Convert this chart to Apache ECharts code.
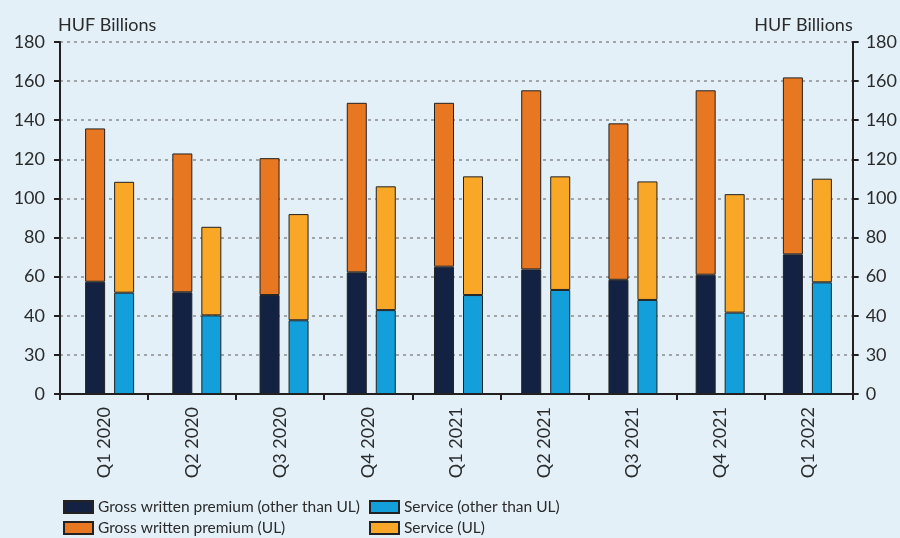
<!DOCTYPE html>
<html>
<head>
<meta charset="utf-8">
<script src="https://cdn.jsdelivr.net/npm/echarts@6/dist/echarts.min.js"></script>
<style>
  html, body { margin: 0; padding: 0; background: #e3f0f8; }
  #chart { width: 900px; height: 538px; }
</style>
</head>
<body>
<div id="chart"></div>
<script>
// Quarterly gross written premium and service, HUF billions
const quarters = ['Q1 2020', 'Q2 2020', 'Q3 2020', 'Q4 2020', 'Q1 2021', 'Q2 2021', 'Q3 2021', 'Q4 2021', 'Q1 2022'];
const gwpOther   = [57.4, 52.0, 50.6, 62.2, 65.1, 63.7, 58.4, 61.0, 71.4];
const gwpUL      = [78.4, 71.0, 70.0, 86.7, 83.8, 91.6, 80.0, 94.3, 90.5];
const svcOther   = [51.8, 40.2, 37.7, 42.9, 50.6, 53.2, 48.1, 41.6, 57.1];
const svcUL      = [56.7, 45.3, 54.3, 63.3, 60.7, 58.1, 60.6, 60.6, 53.0];
const tickValues = [0, 20, 40, 60, 80, 100, 120, 140, 160, 180];
const tickLabels = ['0', '30', '40', '60', '80', '100', '120', '140', '160', '180'];

const FONT = 'Lato';
const FS = 18;
const TEXT = '#2b2b2b';
const AXIS = '#231f20';

const labelFor = v => {
  const i = tickValues.indexOf(v);
  return i >= 0 ? tickLabels[i] : '';
};

const valueAxisBase = {
  type: 'value', min: 0, max: 180, interval: 20,
  axisLine: { show: true, lineStyle: { color: AXIS, width: 2 } },
  axisTick: { show: true, length: 6, lineStyle: { color: AXIS, width: 2 } },
  axisLabel: { formatter: labelFor, color: TEXT, fontFamily: FONT, fontSize: FS },
  nameGap: 8
};

const barBase = {
  type: 'bar', xAxisIndex: 1, yAxisIndex: 2,
  barWidth: 20, barGap: '45%',
  itemStyle: { borderColor: '#222', borderWidth: 1 }
};

const legendBase = {
  top: 497, orient: 'vertical', padding: 0,
  itemWidth: 29, itemHeight: 12, itemGap: 1,
  icon: 'rect',
  textStyle: { color: TEXT, fontFamily: FONT, fontSize: 15.5, lineHeight: 20 }
};

const chart = echarts.init(document.getElementById('chart'), null, { renderer: 'canvas' });
chart.setOption({
  backgroundColor: '#e3f0f8',
  animation: false,
  grid: [
    { left: 60, right: 47, top: 42, bottom: 144 },
    { left: 66, right: 49, top: 42, bottom: 144 }
  ],
  xAxis: [
    {
      type: 'category', gridIndex: 0, data: quarters,
      axisLine: { lineStyle: { color: AXIS, width: 2 } },
      axisTick: { show: true, length: 6, lineStyle: { color: AXIS, width: 2 } },
      axisLabel: { rotate: 90, margin: 13, color: TEXT, fontFamily: FONT, fontSize: FS }
    },
    {
      type: 'category', gridIndex: 1, data: quarters, show: false
    }
  ],
  yAxis: [
    Object.assign({}, valueAxisBase, {
      gridIndex: 0, position: 'left',
      name: 'HUF Billions', nameLocation: 'end',
      nameTextStyle: { color: TEXT, fontFamily: FONT, fontSize: FS, align: 'left', padding: [0, 0, 0, -2] },
      axisLabel: Object.assign({}, valueAxisBase.axisLabel, { margin: 15 }),
      splitLine: { show: true, lineStyle: { color: '#8c8c8c', width: 1.5, type: [3, 4] } }
    }),
    Object.assign({}, valueAxisBase, {
      gridIndex: 0, position: 'right',
      name: 'HUF Billions', nameLocation: 'end',
      nameTextStyle: { color: TEXT, fontFamily: FONT, fontSize: FS, align: 'right', padding: [0, 0, 0, 0] },
      axisLabel: Object.assign({}, valueAxisBase.axisLabel, { margin: 13 }),
      splitLine: { show: false }
    }),
    {
      type: 'value', gridIndex: 1, min: 0, max: 180, interval: 20, show: false,
      splitLine: { show: false }
    }
  ],
  legend: [
    Object.assign({}, legendBase, {
      left: 63,
      data: ['Gross written premium (other than UL)', 'Gross written premium (UL)']
    }),
    Object.assign({}, legendBase, {
      left: 369,
      data: ['Service (other than UL)', 'Service (UL)']
    })
  ],
  series: [
    Object.assign({}, barBase, { name: 'Gross written premium (other than UL)', stack: 'gwp', data: gwpOther,
      itemStyle: Object.assign({}, barBase.itemStyle, { color: '#132143' }) }),
    Object.assign({}, barBase, { name: 'Gross written premium (UL)', stack: 'gwp', data: gwpUL,
      itemStyle: Object.assign({}, barBase.itemStyle, { color: '#e87722' }) }),
    Object.assign({}, barBase, { name: 'Service (other than UL)', stack: 'svc', data: svcOther,
      itemStyle: Object.assign({}, barBase.itemStyle, { color: '#139fd9' }) }),
    Object.assign({}, barBase, { name: 'Service (UL)', stack: 'svc', data: svcUL,
      itemStyle: Object.assign({}, barBase.itemStyle, { color: '#f9a727' }) })
  ]
});
</script>
</body>
</html>
